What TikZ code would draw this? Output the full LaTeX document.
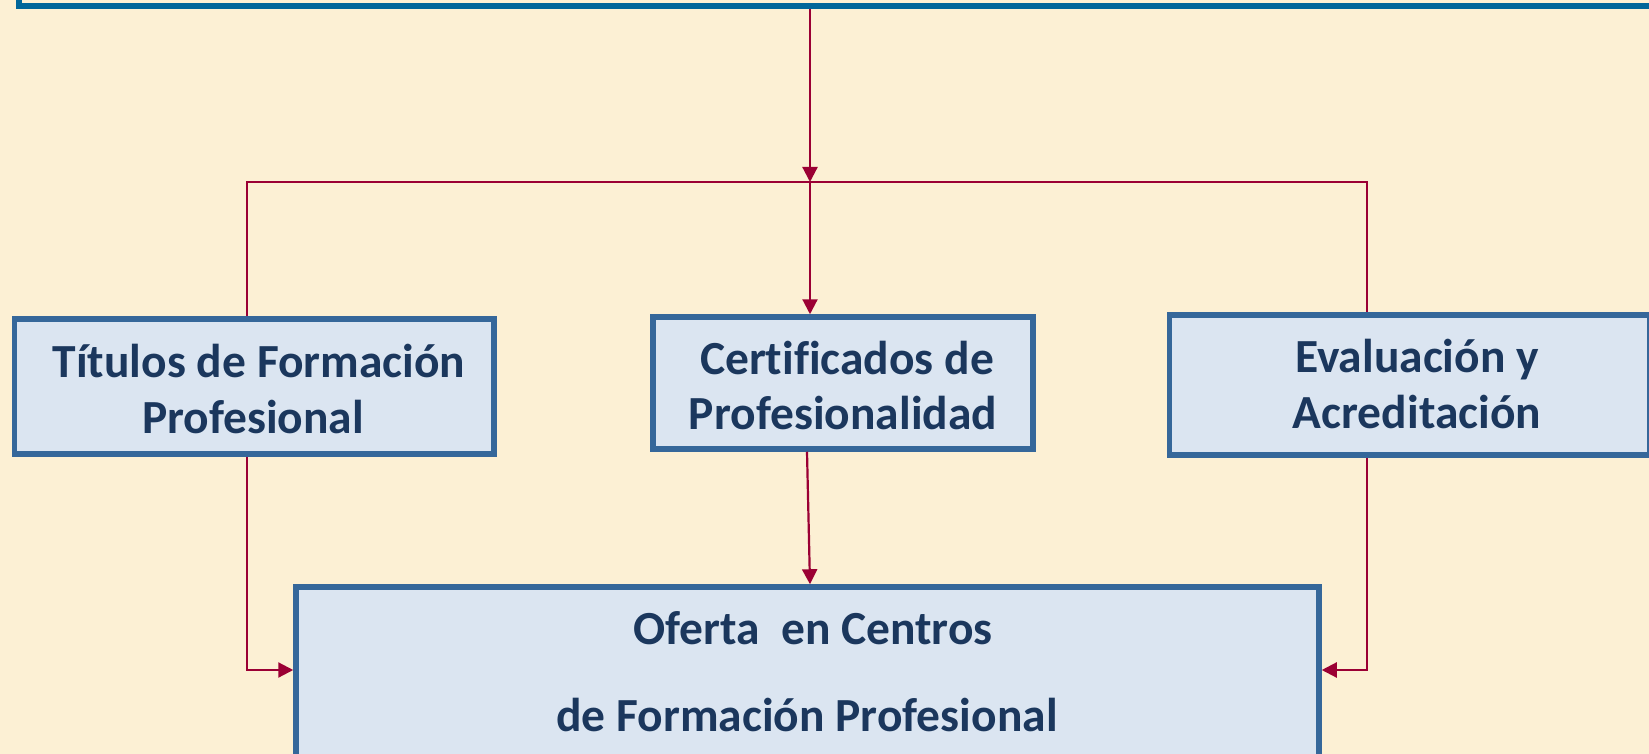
\documentclass[tikz,border=0pt]{standalone}
\usepackage{fontspec}
\setmainfont{Carlito}[Ligatures=NoCommon]
\usetikzlibrary{arrows.meta}
\definecolor{bgcream}{HTML}{FCF0D4}
\definecolor{boxfill}{HTML}{DBE5F1}
\definecolor{boxline}{HTML}{35679A}
\definecolor{topline}{HTML}{00669A}
\definecolor{txtnavy}{HTML}{1B375D}
\definecolor{connred}{HTML}{9B0034}
\tikzset{
  panel/.style={draw=boxline, fill=boxfill, line width=5.5pt, rectangle, inner sep=0pt},
  lbl/.style={anchor=base, text=txtnavy, font=\fontsize{47.5}{55}\selectfont\bfseries, inner sep=0pt},
  wire/.style={draw=connred, line width=2.2pt},
  conn/.style={wire, -{Triangle[length=15pt,width=15pt]}}
}
\begin{document}
\begin{tikzpicture}[x=1pt,y=-1pt]
\useasboundingbox (0,0) rectangle (1649,754);
\clip (0,0) rectangle (1649,754);
\fill[bgcream] (0,0) rectangle (1649,754);
% top box (mostly off page)
\node[draw=topline, line width=6.5pt, rectangle, inner sep=0pt, minimum width=1700pt, minimum height=70pt] (top) at (869,-29) {};
% boxes
\node[panel, minimum width=479.5pt, minimum height=135pt] (tit) at (254.25,386.5) {};
\node[panel, minimum width=380pt, minimum height=132pt] (cert) at (843,383) {};
\node[panel, minimum width=480.5pt, minimum height=140pt] (eval) at (1409.75,385) {};
\node[panel, minimum width=1023pt, minimum height=173pt] (oferta) at (807.5,673.5) {};
% texts
\node[lbl] (tit1) at (259,377) {Títulos de Formación};
\node[lbl] (tit2) at (253,433) {Profesional};
\node[lbl] (cert1) at (847,374) {Certificados de};
\node[lbl] (cert2) at (843,429) {Profesionalidad};
\node[lbl] (eval1) at (1417,372) {Evaluación y};
\node[lbl] (eval2) at (1417,428) {Acreditación};
\node[lbl] (of1) at (813,644) {Oferta\ \ en Centros};
\node[lbl] (of2) at (807,731) {de Formación Profesional};
% junctions
\coordinate (hub) at (810,182);
\coordinate (lj) at (247,182);
\coordinate (rj) at (1367,182);
\coordinate (lo) at (247,670);
\coordinate (ro) at (1367,670);
% connectors
\draw[conn] (top.south -| hub) -- (hub);
\draw[wire] (tit.north -| lj) -- (lj) -- (rj) -- (rj |- eval.north);
\draw[conn] (hub) -- (hub |- cert.north);
\draw[conn] ([xshift=-36pt]cert.south) -- (hub |- oferta.north);
\draw[conn] (tit.south -| lo) -- (lo) -- (lo -| oferta.west);
\draw[conn] (eval.south -| ro) -- (ro) -- (ro -| oferta.east);
\end{tikzpicture}
\end{document}
